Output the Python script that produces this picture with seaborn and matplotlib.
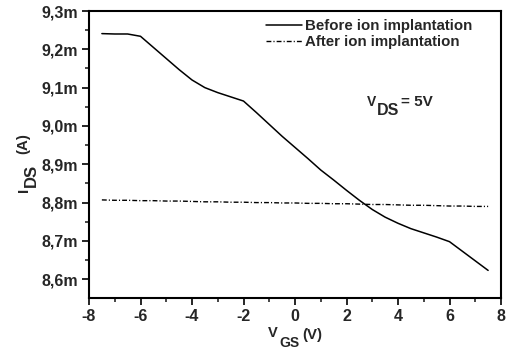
import numpy as np
import pandas as pd
import seaborn as sns
import matplotlib
matplotlib.use('Agg')
import matplotlib.pyplot as plt
from matplotlib.ticker import MultipleLocator, FuncFormatter

# gate voltage (V) and drain current (mA)
vgs = [-7.5, -7.0, -6.5, -6.0, -5.5, -5.0, -4.5, -4.0, -3.5, -3.0, -2.5, -2.0,
       -1.5, -1.0, -0.5, 0.0, 0.5, 1.0, 1.5, 2.0, 2.5, 3.0, 3.5, 4.0,
       4.5, 5.0, 5.5, 6.0, 6.5, 7.0, 7.5]
ids_before = [9.241, 9.240, 9.240, 9.234, 9.205, 9.176, 9.147, 9.120, 9.100, 9.087, 9.076, 9.065,
              9.035, 9.004, 8.973, 8.944, 8.915, 8.885, 8.859, 8.832, 8.806, 8.782, 8.762, 8.746,
              8.732, 8.721, 8.710, 8.698, 8.673, 8.648, 8.623]
ids_after = [8.807, 8.806, 8.806, 8.805, 8.805, 8.804, 8.804, 8.803, 8.802, 8.802, 8.801, 8.801,
             8.800, 8.800, 8.799, 8.799, 8.798, 8.798, 8.797, 8.797, 8.796, 8.795, 8.795, 8.794,
             8.793, 8.793, 8.792, 8.791, 8.791, 8.790, 8.790]

labels = ['Before ion implantation', 'After ion implantation']

df = pd.concat([
    pd.DataFrame({'vgs': vgs, 'ids': ids_before, 'series': labels[0]}),
    pd.DataFrame({'vgs': vgs, 'ids': ids_after, 'series': labels[1]}),
])

sns.set_style('ticks')
plt.rcParams['font.family'] = ['Liberation Sans', 'DejaVu Sans']
plt.rcParams['font.weight'] = 'bold'

W, H = 510, 351
fig = plt.figure(figsize=(W / 100, H / 100), dpi=100)
ax = fig.add_axes([89 / W, 1 - 298 / H, 412 / W, 287 / H])

sns.lineplot(data=df, x='vgs', y='ids', hue='series', style='series',
             palette=['black', 'black'], ax=ax, legend=False, linewidth=1.1)
lines = ax.get_lines()
lines[0].set_linestyle('-')
lines[1].set_linestyle((0, (3.5, 1.5, 0.8, 1.5)))
lines[1].set_linewidth(1.0)

ax.set_xlim(-8, 8)
ax.set_ylim(8.551, 9.3)
ax.xaxis.set_major_locator(MultipleLocator(2))
ax.xaxis.set_minor_locator(MultipleLocator(1))
ax.yaxis.set_major_locator(MultipleLocator(0.1))
ax.yaxis.set_minor_locator(MultipleLocator(0.05))
ax.yaxis.set_major_formatter(FuncFormatter(lambda v, p: f'{v:.1f}m'.replace('.', ',')))
ax.xaxis.set_major_formatter(FuncFormatter(lambda v, p: f'{v:.0f}'))

for s in ax.spines.values():
    s.set_linewidth(1.5)
    s.set_color('black')
ax.tick_params(which='major', direction='out', length=5, width=1.4, labelsize=11.5, pad=3)
ax.tick_params(which='minor', direction='out', length=3, width=1.2)
for t in ax.get_xticklabels() + ax.get_yticklabels():
    t.set_fontweight('bold')
ax.set_xlabel('')
ax.set_ylabel('')


def put(x, y, s, size, rot=0):
    # place a text piece by pixel position of its baseline start
    fig.text(x / W, 1 - y / H, s, fontsize=size, fontweight='bold',
             rotation=rot, rotation_mode='anchor', ha='left', va='baseline')


# x label  V_GS (V)
put(268, 337, 'V', 10.5)
put(279, 347, 'GS', 10)
put(302, 339, '(V)', 10.8)

# y label  I_DS (A)
put(28, 192, 'I', 11, rot=90)
put(36, 187, 'DS', 12, rot=90)
put(27, 154, '(A)', 10.8, rot=90)

# V_DS = 5V
put(367, 106, 'V', 10)
put(377, 115, 'DS', 11.5)
put(401, 106, '= 5V', 11)

ax.legend(lines, labels, loc='upper left', frameon=False,
          bbox_to_anchor=(260 / W, 1 - 13 / H), bbox_transform=fig.transFigure,
          borderaxespad=0, handlelength=2.4, handletextpad=0.2, labelspacing=0.15,
          prop={'weight': 'bold', 'size': 10.8})

fig.savefig('out.png', dpi=100)
